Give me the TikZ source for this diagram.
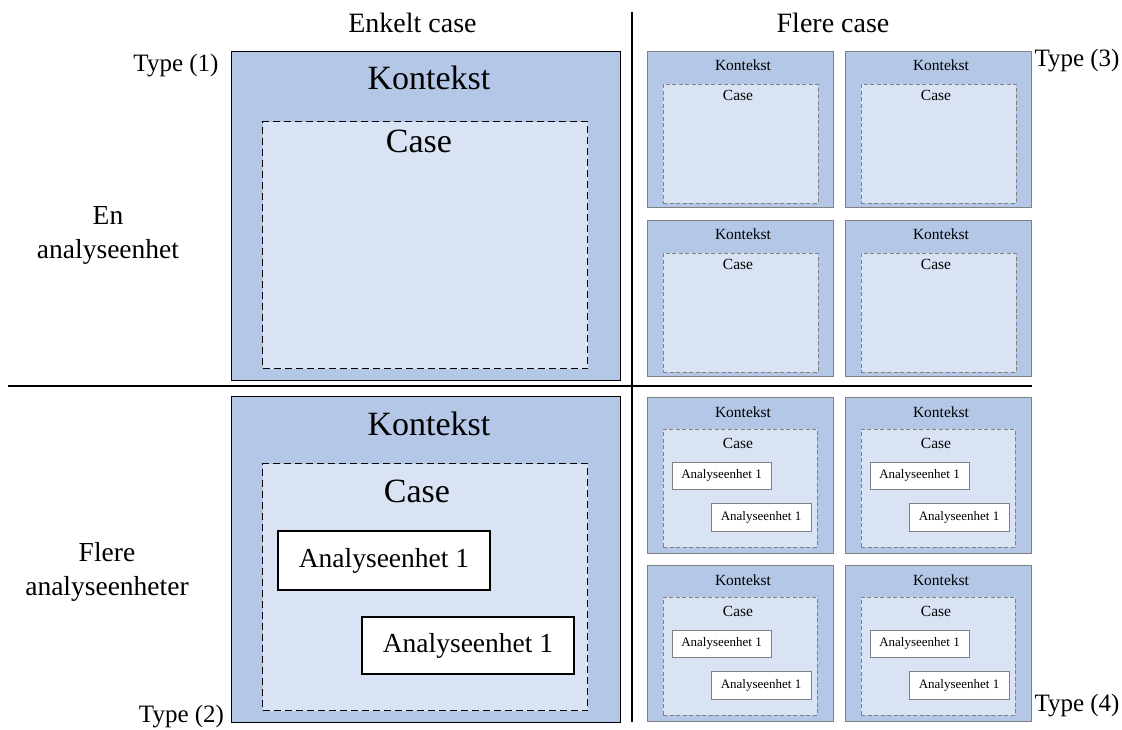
\documentclass[tikz,border=0pt]{standalone}
\usepackage{fontspec}
\setmainfont{Liberation Serif}
\usetikzlibrary{positioning}

\definecolor{ctxblue}{HTML}{B4C7E7}
\definecolor{caseblue}{HTML}{DAE3F3}
\definecolor{rimgray}{HTML}{808080}

\tikzset{
  bigctx/.style={draw=black, line width=1.4pt, fill=ctxblue, inner sep=0pt, anchor=north west},
  bigcase/.style={draw=black, line width=1.2pt, dash pattern=on 7pt off 4pt, fill=caseblue, inner sep=0pt, anchor=north west},
  bigunit/.style={draw=black, line width=1.2pt, fill=white, inner sep=0pt, font=\fontsize{27.5}{30}\selectfont},
  smallctx/.style={draw=rimgray, line width=1pt, fill=ctxblue, inner sep=0pt, anchor=north west,
    minimum width=186pt, minimum height=156pt},
  smallcase/.style={draw=rimgray, line width=0.9pt, dash pattern=on 4pt off 2.5pt, fill=caseblue, inner sep=0pt, anchor=north west},
  smallunit/.style={draw=rimgray, line width=0.9pt, fill=white, inner sep=0pt, font=\fontsize{13}{15}\selectfont},
  bigtxt/.style={inner sep=0pt, font=\fontsize{34}{38}\selectfont},
  smalltxt/.style={inner sep=0pt, font=\fontsize{15.5}{18}\selectfont},
  headtxt/.style={inner sep=0pt, font=\fontsize{28}{32}\selectfont},
  rowtxt/.style={inner sep=0pt, align=center, font=\fontsize{27.5}{34}\selectfont},
  typetxt/.style={inner sep=0pt, font=\fontsize{25}{28}\selectfont},
  divider/.style={line width=2pt, black}
}

\begin{document}
\begin{tikzpicture}[x=1pt, y=-1pt]
    \useasboundingbox (0,0) rectangle (1122,729);

    % column and row headings
    \node[headtxt] (enkelt) at (412.5,23) {Enkelt case};
    \node[headtxt] (flere) at (833,23) {Flere case};
    \node[rowtxt] (enhet) at (108,235) {En\\analyseenhet};
    \node[rowtxt] (enheter) at (107,572) {Flere\\analyseenheter};
    \node[typetxt] (type1) at (176,66) {Type (1)};
    \node[typetxt] (type2) at (181.5,717) {Type (2)};
    \node[typetxt] (type3) at (1077,61) {Type (3)};
    \node[typetxt] (type4) at (1077,706) {Type (4)};

    % type (1)
    \node[bigctx, minimum width=389pt, minimum height=329pt] (ctxone) at (231,51) {};
    \node[bigcase, minimum width=325pt, minimum height=247pt] (caseone) at (262,121) {};
    \node[bigtxt] (ktone) at (429,78) {Kontekst};
    \node[bigtxt] (csone) at (419,141) {Case};

    % type (2)
    \node[bigctx, minimum width=389pt, minimum height=326pt] (ctxtwo) at (231,396) {};
    \node[bigcase, minimum width=325pt, minimum height=247pt] (casetwo) at (262,463) {};
    \node[bigtxt] (kttwo) at (429,424) {Kontekst};
    \node[bigtxt] (cstwo) at (417,491) {Case};
    \node[bigunit, minimum width=212pt, minimum height=59pt] (unittwoa) at (384,560.5) {Analyseenhet 1};
    \node[bigunit, minimum width=212pt, minimum height=57pt] (unittwob) at (468,645.5) {Analyseenhet 1};

    % type (3)
    \foreach \n/\x/\y in {a/647/51, b/845/51, c/647/220, d/845/220} {
        \node[smallctx] (ctxthree\n) at (\x,\y) {};
        \node[smallcase, minimum width=155pt, minimum height=119pt] (casethree\n) at (\x+16,\y+33) {};
        \node[smalltxt] (ktthree\n) at (\x+96,\y+14) {Kontekst};
        \node[smalltxt] (csthree\n) at (\x+91,\y+44) {Case};
    }

    % type (4)
    \foreach \n/\x/\y in {a/647/397, b/845/397, c/647/565, d/845/565} {
        \node[smallctx] (ctxfour\n) at (\x,\y) {};
        \node[smallcase, minimum width=154pt, minimum height=118pt] (casefour\n) at (\x+16,\y+32) {};
        \node[smalltxt] (ktfour\n) at (\x+96,\y+15) {Kontekst};
        \node[smalltxt] (csfour\n) at (\x+91,\y+46) {Case};
        \node[smallunit, minimum width=99pt, minimum height=27pt] (unitfoura\n) at (\x+74.5,\y+78.5) {Analyseenhet 1};
        \node[smallunit, minimum width=100pt, minimum height=28pt] (unitfourb\n) at (\x+114,\y+120) {Analyseenhet 1};
    }

    % dividers
    \coordinate (vtop) at (632,12);
    \coordinate (vbot) at (632,722);
    \coordinate (hleft) at (8,386);
    \coordinate (hright) at (1032,386);
    \draw[divider] (vtop) -- (vbot);
    \draw[divider] (hleft) -- (hright);
\end{tikzpicture}
\end{document}
